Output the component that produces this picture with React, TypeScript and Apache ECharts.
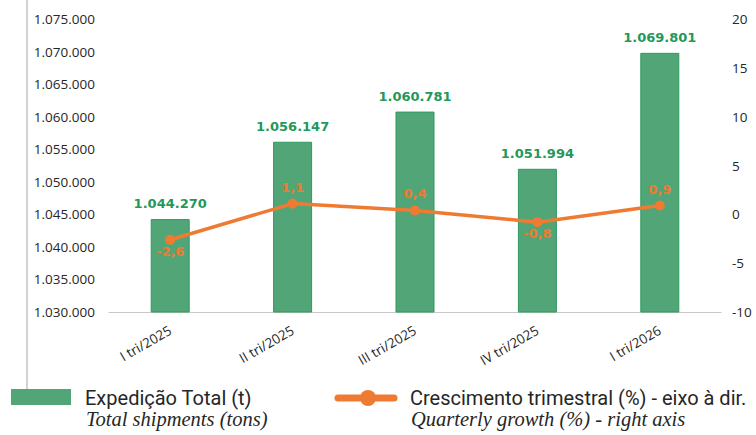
import React, { useEffect, useRef } from "react";
import * as echarts from "echarts";

const categories = ["I tri/2025", "II tri/2025", "III tri/2025", "IV tri/2025", "I tri/2026"];
const shipments = [1044270, 1056147, 1060781, 1051994, 1069801];
const growth = [-2.6, 1.1, 0.4, -0.8, 0.9];

const leftTicks = { min: 1030000, max: 1075000, interval: 5000 };
const rightTicks = { min: -10, max: 20, interval: 5 };

const legendTexts = {
  barPt: "Expedição Total (t)",
  barEn: "Total shipments (tons)",
  linePt: "Crescimento trimestral (%) - eixo à dir.",
  lineEn: "Quarterly growth (%) - right axis",
};

const GREEN_FILL = "#52A577";
const GREEN_BORDER = "#2F9A5E";
const GREEN_TEXT = "#22985A";
const ORANGE = "#EF7B33";

const fmtThousands = (v: number) =>
  String(Math.round(v)).replace(/\B(?=(\d{3})+(?!\d))/g, ".");
const fmtDec = (v: number) => v.toFixed(1).replace(".", ",");

export default function App() {
  const ref = useRef<HTMLDivElement>(null);

  useEffect(() => {
    if (!ref.current) return;
    const chart = echarts.init(ref.current, undefined, { renderer: "svg" });
    const axisFont = { fontFamily: "Open Sans", fontSize: 13.5, color: "#262626" };

    chart.setOption({
      animation: false,
      backgroundColor: "#ffffff",
      grid: { left: 109, right: 35, top: 19, bottom: 123, containLabel: false },
      xAxis: {
        type: "category",
        data: categories,
        axisLine: { show: true, onZero: false, lineStyle: { color: "#C8C8C8", width: 1 } },
        axisTick: { show: false },
        axisLabel: { ...axisFont, rotate: 30, margin: 17, interval: 0 },
      },
      yAxis: [
        {
          type: "value",
          min: leftTicks.min,
          max: leftTicks.max,
          interval: leftTicks.interval,
          axisLine: { show: false },
          axisTick: { show: false },
          splitLine: { show: false },
          axisLabel: { ...axisFont, margin: 14, formatter: (v: number) => fmtThousands(v) },
        },
        {
          type: "value",
          min: rightTicks.min,
          max: rightTicks.max,
          interval: rightTicks.interval,
          position: "right",
          axisLine: { show: false },
          axisTick: { show: false },
          splitLine: { show: false },
          axisLabel: { ...axisFont, margin: 11, align: "left" },
        },
      ],
      series: [
        {
          type: "bar",
          yAxisIndex: 0,
          data: shipments,
          barWidth: 39,
          itemStyle: { color: GREEN_FILL, borderColor: GREEN_BORDER, borderWidth: 1 },
          label: {
            show: true,
            position: "top",
            distance: 9,
            color: GREEN_TEXT,
            fontFamily: "DejaVu Sans",
            fontWeight: "bold",
            fontSize: 13,
            formatter: (p: any) => fmtThousands(p.value),
          },
        },
        {
          type: "line",
          yAxisIndex: 1,
          data: growth.map((v) => ({
            value: v,
            label: { position: v < 0 ? "bottom" : "top", distance: v < 0 ? 0 : 5 },
          })),
          symbol: "circle",
          symbolSize: 10,
          lineStyle: { color: ORANGE, width: 3.5 },
          itemStyle: { color: ORANGE },
          z: 5,
          label: {
            show: true,
            color: ORANGE,
            fontFamily: "DejaVu Sans",
            fontWeight: "bold",
            fontSize: 13,
            formatter: (p: any) => fmtDec(p.value),
          },
        },
      ],
      graphic: [
        {
          type: "line",
          shape: { x1: 27, y1: 0, x2: 27, y2: 389 },
          style: { stroke: "#D2D2D2", lineWidth: 2 },
        },
        {
          type: "rect",
          shape: { x: 11, y: 389, width: 60, height: 16 },
          style: { fill: GREEN_FILL },
        },
        {
          type: "text",
          x: 85,
          y: 407,
          style: {
            text: legendTexts.barPt,
            fontFamily: "Roboto",
            fontSize: 20,
            lineHeight: 18,
            fill: "#262626",
            verticalAlign: "bottom",
          },
        },
        {
          type: "text",
          x: 86,
          y: 428,
          style: {
            text: legendTexts.barEn,
            fontFamily: "Liberation Serif",
            fontStyle: "italic",
            fontSize: 20.5,
            lineHeight: 18,
            fill: "#262626",
            verticalAlign: "bottom",
          },
        },
        {
          type: "line",
          shape: { x1: 338, y1: 398, x2: 394, y2: 398 },
          style: { stroke: ORANGE, lineWidth: 7, lineCap: "round" },
        },
        {
          type: "circle",
          shape: { cx: 368, cy: 398, r: 8 },
          style: { fill: ORANGE },
        },
        {
          type: "text",
          x: 410,
          y: 407,
          style: {
            text: legendTexts.linePt,
            fontFamily: "Roboto",
            fontSize: 20,
            lineHeight: 18,
            fill: "#262626",
            verticalAlign: "bottom",
          },
        },
        {
          type: "text",
          x: 411,
          y: 428,
          style: {
            text: legendTexts.lineEn,
            fontFamily: "Liberation Serif",
            fontStyle: "italic",
            fontSize: 20.5,
            lineHeight: 18,
            fill: "#262626",
            verticalAlign: "bottom",
          },
        },
      ],
    });

    return () => chart.dispose();
  }, []);

  return (
    <div
      ref={ref}
      style={{ position: "fixed", left: 0, top: 0, width: 756, height: 435 }}
    />
  );
}
